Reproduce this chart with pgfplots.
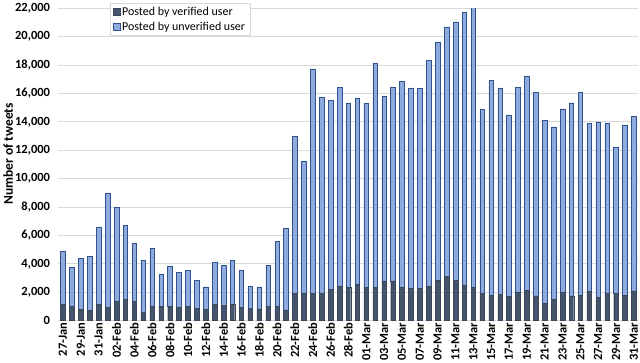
\documentclass[border=0pt]{standalone}
\usepackage{pgfplots}
\pgfplotsset{compat=1.18}
\usepackage{pgfplotstable}
\usepackage{fontspec}
\setmainfont{Carlito}

\definecolor{verif}{RGB}{68,84,106}
\definecolor{unverif}{RGB}{143,170,220}
\definecolor{edgeblue}{RGB}{47,82,143}
\definecolor{gridgray}{RGB}{217,217,217}

% idx = day (1 = 27-Jan ... 65 = 31-Mar)
\pgfplotstableread{
idx ver unver
1 1150 3710
2 1040 2740
3 800 3600
4 710 3790
5 1130 5450
6 930 8070
7 1380 6580
8 1500 5200
9 1340 4080
10 600 3640
11 1020 4110
12 1020 2280
13 1020 2840
14 960 2430
15 1020 2540
16 860 1990
17 810 1570
18 1140 2980
19 1090 2800
20 1140 3120
21 960 2600
22 880 1550
23 830 1530
24 1020 2890
25 1000 4560
26 750 5750
27 1920 11090
28 1960 9290
29 1920 15780
30 1960 13780
31 2190 13320
32 2450 13970
33 2330 12990
34 2590 13060
35 2330 12990
36 2330 15790
37 2800 12990
38 2800 13650
39 2330 14520
40 2260 14140
41 2260 14090
42 2400 15930
43 2820 16800
44 3130 17550
45 2820 18220
46 2500 19240
47 2330 19900
48 1910 12960
49 1790 15130
50 1840 14560
51 1700 12770
52 2000 14450
53 2120 15080
54 1740 14330
55 1200 12890
56 1480 12170
57 1980 12940
58 1740 13600
59 1770 14320
60 2050 11830
61 1650 12350
62 1950 11980
63 1930 10310
64 1770 12000
65 2100 12300
}\tweets

\begin{document}
\begin{tikzpicture}
% page frame: axis box sits at (0,0)-(581pt,313pt)
\path (-57.5pt,-40pt) rectangle (582.5pt,318pt);
\begin{axis}[
    scale only axis,
    width=581pt, height=313pt,
    ybar stacked,
    bar width=4.6pt,
    xmin=0.5, xmax=65.5,
    ymin=0, ymax=22000,
    ytick={0,2000,...,22000},
    scaled y ticks=false,
    /pgf/number format/assume math mode=true,
    /pgf/number format/1000 sep={,},
    xtick={1,3,...,65},
    xticklabels={27-Jan,29-Jan,31-Jan,02-Feb,04-Feb,06-Feb,08-Feb,10-Feb,12-Feb,14-Feb,16-Feb,18-Feb,20-Feb,22-Feb,24-Feb,26-Feb,28-Feb,01-Mar,03-Mar,05-Mar,07-Mar,09-Mar,11-Mar,13-Mar,15-Mar,17-Mar,19-Mar,21-Mar,23-Mar,25-Mar,27-Mar,29-Mar,31-Mar},
    xticklabel style={rotate=90, anchor=east, inner sep=2pt,
        font=\bfseries\fontsize{12.5}{14}\selectfont},
    yticklabel style={font=\bfseries\fontsize{12.5}{14}\selectfont, xshift=-5pt},
    axis line style={draw=none},
    tick style={draw=none},
    ymajorgrids,
    grid style={gridgray, line width=0.8pt},
    ylabel={Number of tweets},
    ylabel style={at={(axis description cs:-0.0869,0.534)}, anchor=center,
        font=\bfseries\fontsize{13.5}{15}\selectfont},
    legend cell align=left,
    legend image code/.code={\draw[#1] (0pt,-3.3pt) rectangle (6.6pt,3.3pt);},
    legend style={at={(0.0886,1.016)}, anchor=north west, draw=gridgray,
        fill=white, font=\fontsize{12}{13}\selectfont, row sep=1pt,
        inner xsep=3pt, inner ysep=1.5pt},
]
\addplot[fill=verif, draw=verif!85!black, line width=0.4pt] table[x=idx, y=ver] {\tweets};
\addplot[fill=unverif, draw=edgeblue, line width=0.5pt] table[x=idx, y=unver] {\tweets};
\legend{Posted by verified user, Posted by unverified user}
\end{axis}
\end{tikzpicture}
\end{document}
